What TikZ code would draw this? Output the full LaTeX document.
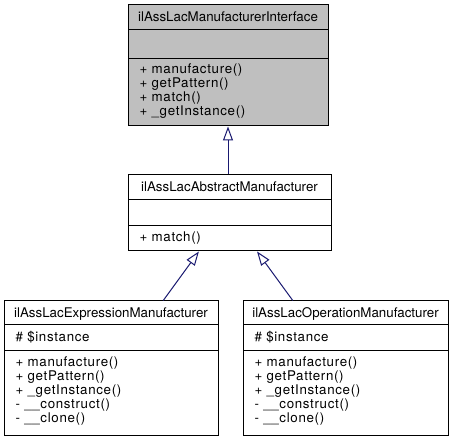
\documentclass[tikz,border=0pt]{standalone}
\usepackage{fontspec}
\setmainfont{TeX Gyre Heros}
\newfontfamily\memberfont[LetterSpace=5]{TeX Gyre Heros}
\usetikzlibrary{arrows.meta,fit,calc}
\definecolor{edgeblue}{HTML}{191970}
\definecolor{boxgray}{HTML}{BFBFBF}
\tikzset{
  classbox/.style={draw=black, line width=0.75pt, inner sep=0pt},
  classname/.style={anchor=base, inner sep=0pt},
  member/.style={anchor=base west, inner sep=0pt, font=\fontsize{10}{12}\memberfont},
  inherit/.style={draw=edgeblue, line width=0.75pt,
    -{Triangle[length=10.5pt,width=7.5pt,fill=white]}},
}
\begin{document}
\begin{tikzpicture}[x=0.75pt,y=-0.75pt,font=\fontsize{10}{12}\selectfont,line width=0.75pt]
\useasboundingbox (0,0) rectangle (453,441);

% interface
\node[classbox,fill=boxgray,fit={(128,5) (328,126)}] (iface) {};
\draw (128,30)--(328,30) (128,59)--(328,59);
\node[classname] (iface-name) at (228,22) {ilAssLacManufacturerInterface};
\foreach \y/\txt [count=\i] in {74/+ manufacture(), 87.8/+ getPattern(),
    101.6/+ match(), 115.4/+ \_getInstance()}
{
    \node[member] (iface-m\i) at (139,\y) {\txt};
}

% abstract class
\node[classbox,fit={(128,175) (331,251)}] (abs) {};
\draw (128,200)--(331,200) (128,226)--(331,226);
\node[classname] (abs-name) at (229.5,191.5) {ilAssLacAbstractManufacturer};
\node[member] (abs-m1) at (139,242) {+ match()};

% expression
\node[classbox,fit={(4,301) (218,435)}] (expr) {};
\draw (4,325)--(218,325) (4,351)--(218,351);
\node[classname] (expr-name) at (111,317.5) {ilAssLacExpressionManufacturer};
\node[member] (expr-a1) at (15,341.7) {\# \$instance};
\foreach \y/\txt [count=\i] in {366.7/+ manufacture(), 380.7/+ getPattern(),
    394.7/+ \_getInstance(), 408.7/- \_\_construct(), 422.7/- \_\_clone()}
{
    \node[member] (expr-m\i) at (15,\y) {\txt};
}

% operation
\node[classbox,fit={(243,301) (448,435)}] (oper) {};
\draw (243,325)--(448,325) (243,351)--(448,351);
\node[classname] (oper-name) at (345.5,317.5) {ilAssLacOperationManufacturer};
\node[member] (oper-a1) at (254,341.7) {\# \$instance};
\foreach \y/\txt [count=\i] in {366.7/+ manufacture(), 380.7/+ getPattern(),
    394.7/+ \_getInstance(), 408.7/- \_\_construct(), 422.7/- \_\_clone()}
{
    \node[member] (oper-m\i) at (254,\y) {\txt};
}

% inheritance
\draw[inherit] (iface.south |- abs.north) -- (iface.south);
\draw[inherit] ($(expr.north west)!.743!(expr.north east)$) -- ($(abs.south west)!.35!(abs.south east)$);
\draw[inherit] ($(oper.north west)!.244!(oper.north east)$) -- ($(abs.south west)!.635!(abs.south east)$);
\end{tikzpicture}
\end{document}
